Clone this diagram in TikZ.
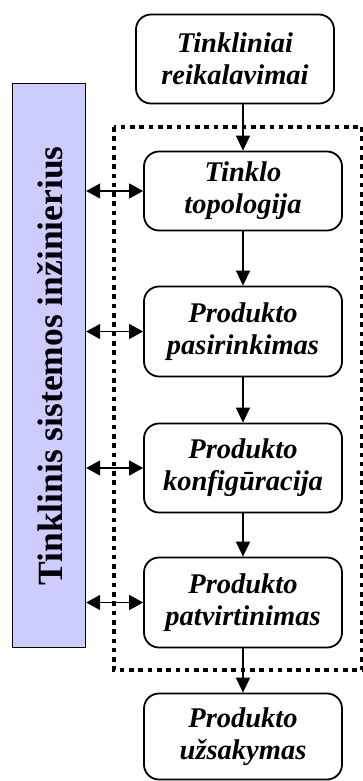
\documentclass[tikz,border=0pt]{standalone}
\usepackage{fontspec}
\setmainfont{Liberation Serif}
\usetikzlibrary{arrows.meta}
\definecolor{engfill}{RGB}{204,204,255}
\begin{document}
\begin{tikzpicture}[x=1pt,y=-1pt,
  stage/.style={draw, line width=1.8pt, rounded corners=15pt, fill=white,
    minimum width=198pt, align=center, inner sep=0pt,
    font=\fontsize{28.5}{32}\selectfont\bfseries\itshape},
  flow/.style={line width=1.6pt, -{Triangle[length=15pt,width=14pt]}},
  link/.style={line width=1.6pt,
    {Triangle[length=14pt,width=15pt]}-{Triangle[length=14pt,width=15pt]}},
  frame/.style={line width=4.5pt, dash pattern=on 4.6pt off 4.7pt},
]
\useasboundingbox (0,0) rectangle (362,781);

% dotted frame around the design stages
\draw[frame] (114,127) rectangle (362.5,670);

% engineer column
\node (eng) [draw, line width=1.4pt, fill=engfill, minimum width=73pt,
  minimum height=564pt, inner sep=0pt] at (49,365.5) {};
\node (englabel) [rotate=90, inner sep=0pt,
  font=\fontsize{35.5}{40}\selectfont\bfseries] at (50,366)
  {Tinklinis sistemos inžinierius};

% process stages
\node (s1) [stage, minimum height=89pt] at (235,59) {Tinkliniai\\reikalavimai};
\node (s2) [stage, minimum height=79pt] at (243,191) {Tinklo\\topologija};
\node (s3) [stage, minimum height=90pt] at (243,331.5) {Produkto\\pasirinkimas};
\node (s4) [stage, minimum height=89pt] at (243,468) {Produkto\\konfigūracija};
\node (s5) [stage, minimum height=90pt] at (243,602.5) {Produkto\\patvirtinimas};
\node (s6) [stage, minimum height=86pt] at (243,736.5) {Produkto\\užsakymas};

% stage sequence
\draw[flow] (s2.north |- s1.south) -- (s2.north);
\draw[flow] (s2) -- (s3);
\draw[flow] (s3) -- (s4);
\draw[flow] (s4) -- (s5);
\draw[flow] (s5) -- (s6);

% engineer interaction
\draw[link] (eng.east |- s2.west) -- (s2.west);
\draw[link] (eng.east |- s3.west) -- (s3.west);
\draw[link] (eng.east |- s4.west) -- (s4.west);
\draw[link] (eng.east |- s5.west) -- (s5.west);
\end{tikzpicture}
\end{document}
